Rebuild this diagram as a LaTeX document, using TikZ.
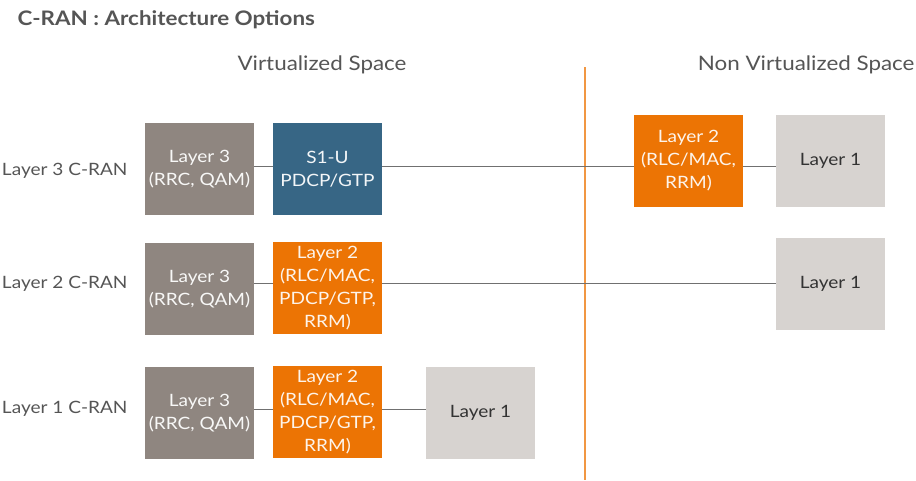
\documentclass[tikz,border=0pt]{standalone}
\usepackage{fontspec}
\setmainfont{Lato}[FakeStretch=1.12]
\usepackage{tikz}
\usetikzlibrary{positioning}

\definecolor{stonegray}{HTML}{8F8680}
\definecolor{slateblue}{HTML}{376685}
\definecolor{ranorange}{HTML}{EC7404}
\definecolor{palegray}{HTML}{D7D3D0}
\definecolor{linegray}{HTML}{707070}
\definecolor{textgray}{HTML}{555555}

\tikzset{
  block/.style={minimum width=109pt,minimum height=92pt,inner sep=0pt,align=center,
    font=\fontsize{17}{23}\selectfont},
  lthree/.style={block,fill=stonegray,text=white!94!stonegray},
  sone/.style={block,fill=slateblue,text=white!94!slateblue},
  ltwo/.style={block,fill=ranorange,text=white!92!ranorange},
  lone/.style={block,fill=palegray,text=black!80},
  rowlabel/.style={anchor=east,text=textgray,font=\fontsize{17}{20}\selectfont},
  link/.style={draw=linegray,line width=0.9pt}
}

\begin{document}
\begin{tikzpicture}[x=1pt,y=1pt]
            \useasboundingbox (0,0) rectangle (916,-480);
            \node[anchor=west,text=textgray,font=\fontsize{20}{22}\selectfont\bfseries] (title) at (14,-20) {C-RAN : Architecture Options};
            \node[text=textgray,font=\fontsize{20}{24}\selectfont] (virt) at (322,-65) {Virtualized Space};
            \node[anchor=east,text=textgray,font=\fontsize{20}{24}\selectfont] (nonvirt) at (918,-65) {Non Virtualized Space};
            \draw[ranorange!75,line width=1.3pt] (585,-67)--(585,-480);
            % Layer 3 C-RAN
            \node[rowlabel] (r3) at (131,-171) {Layer 3 C-RAN};
            \node[lthree] (g3) at (199.5,-169) {Layer 3\\(RRC, QAM)};
            \node[sone] (b3) at (327.5,-169) {S1-U\\PDCP/GTP};
            \node[ltwo] (o3) at (688.5,-161) {Layer 2\\(RLC/MAC,\\RRM)};
            \node[lone] (w3) at (830.5,-161) {Layer 1};
            \draw[link] (g3.east |- 0,-166)--(b3.west |- 0,-166);
            \draw[link] (b3.east |- 0,-166)--(o3.west |- 0,-166);
            \draw[link] (o3.east |- 0,-166)--(w3.west |- 0,-166);
            % Layer 2 C-RAN
            \node[rowlabel] (r2) at (131,-284) {Layer 2 C-RAN};
            \node[lthree] (g2) at (199.5,-289) {Layer 3\\(RRC, QAM)};
            \node[ltwo] (o2) at (327.5,-288) {Layer 2\\(RLC/MAC,\\PDCP/GTP,\\RRM)};
            \node[lone] (w2) at (830.5,-284) {Layer 1};
            \draw[link] (g2.east |- 0,-283)--(o2.west |- 0,-283);
            \draw[link] (o2.east |- 0,-283)--(w2.west |- 0,-283);
            % Layer 1 C-RAN
            \node[rowlabel] (r1) at (131,-409) {Layer 1 C-RAN};
            \node[lthree] (g1) at (199.5,-413) {Layer 3\\(RRC, QAM)};
            \node[ltwo] (o1) at (327.5,-412) {Layer 2\\(RLC/MAC,\\PDCP/GTP,\\RRM)};
            \node[lone] (w1) at (480.5,-413) {Layer 1};
            \draw[link] (g1.east |- 0,-409)--(o1.west |- 0,-409);
            \draw[link] (o1.east |- 0,-409)--(w1.west |- 0,-409);
\end{tikzpicture}
\end{document}
